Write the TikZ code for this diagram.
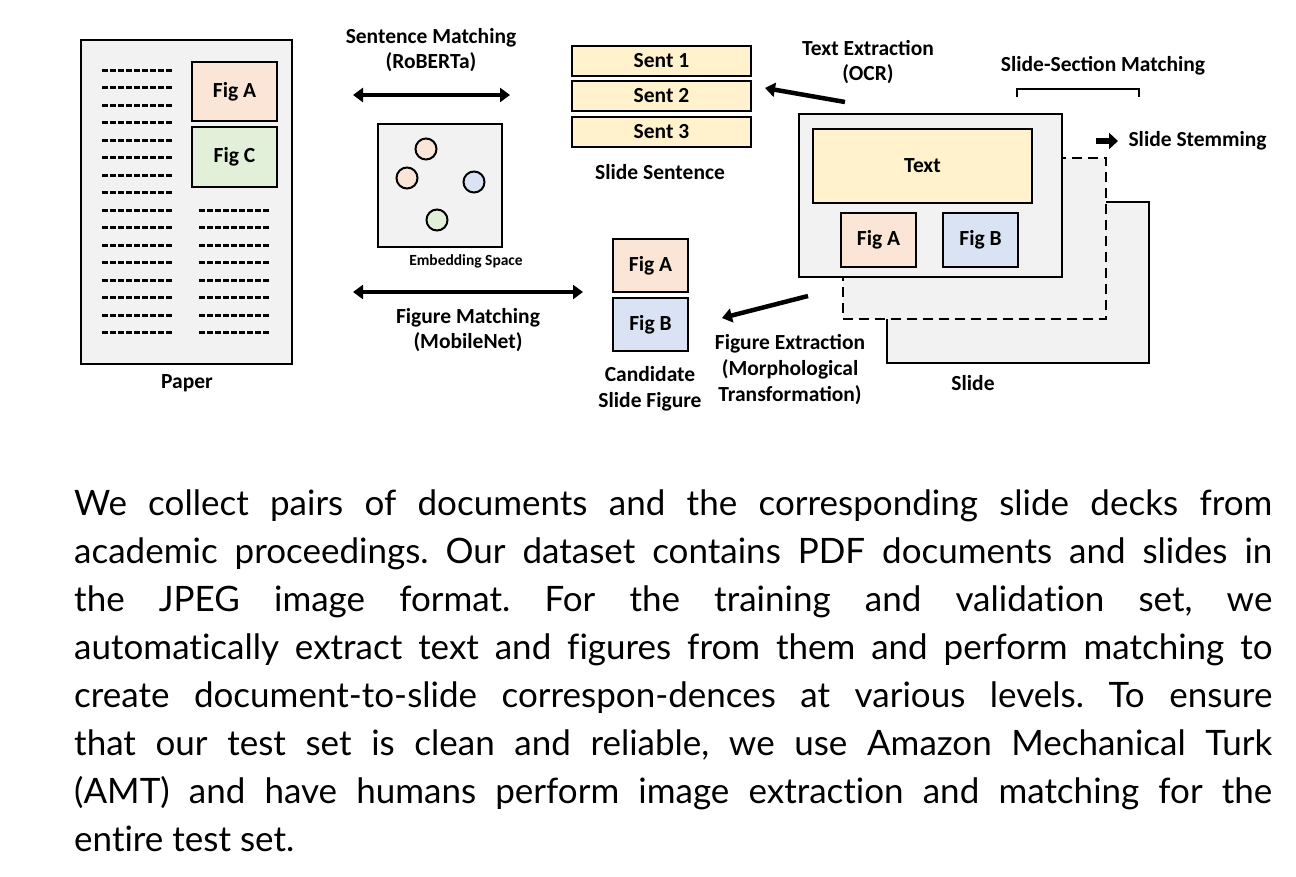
\documentclass[tikz,border=0pt]{standalone}
\usepackage{fontspec}
\setmainfont{Carlito}
\newfontfamily\capfont[Ligatures=NoCommon]{Lato}
\usetikzlibrary{arrows.meta}
\definecolor{sheetgray}{HTML}{F2F2F2}
\definecolor{peach}{HTML}{FBE5D6}
\definecolor{mint}{HTML}{E2F0D9}
\definecolor{sky}{HTML}{DAE3F3}
\definecolor{cream}{HTML}{FFF2CC}

\begin{document}
\begin{tikzpicture}[x=1pt,y=-1pt,
    box/.style={draw,line width=2.4pt,inner sep=0pt,font=\bfseries\fontsize{21.5}{25}\selectfont},
    lbl/.style={align=center,font=\bfseries\fontsize{21.5}{25}\selectfont},
    dot/.style={circle,draw,line width=2pt,minimum size=21pt,inner sep=0pt},
    textline/.style={line width=3pt,dash pattern=on 6pt off 2pt},
    bigarrow/.style={line width=4.5pt,arrows={-Triangle[length=10pt,width=14pt]}}]
  \useasboundingbox (0,0) rectangle (1296,876);

  % paper
  \node (paper) [box,fill=sheetgray,minimum width=211pt,minimum height=324pt] at (186.5,202) {};
  \foreach \i [evaluate=\i as \yy using {70.5+int(\i*17.5)}] in {0,...,15}
    \draw[textline] (102,\yy) -- ++(70,0);
  \foreach \i [evaluate=\i as \yy using {70.5+int(\i*17.5)}] in {8,...,15}
    \draw[textline] (199,\yy) -- ++(70,0);
  \node (papfigA) [box,fill=peach,minimum width=85pt,minimum height=59pt] at (234.5,91.5) {Fig A};
  \node (papfigC) [box,fill=mint,minimum width=85pt,minimum height=60pt] at (234.5,157) {Fig C};
  \node (paperlbl) [lbl] at (187,383) {Paper};

  % sentence matching
  \node (sentlbl) [lbl] at (431,50) {Sentence Matching\\(RoBERTa)};
  \coordinate (sentL) at (353,95);
  \coordinate (sentR) at (510,95);
  \draw[bigarrow,arrows={Triangle[length=10pt,width=14pt]-Triangle[length=10pt,width=14pt]}] (sentL) -- (sentR);

  % embedding space
  \node (embed) [box,fill=sheetgray,minimum width=124pt,minimum height=123pt] at (440,185.5) {};
  \node (dot1) [dot,fill=peach] at (426,149) {};
  \node (dot2) [dot,fill=peach] at (407,178) {};
  \node (dot3) [dot,fill=sky] at (474,182) {};
  \node (dot4) [dot,fill=mint] at (437,220) {};
  \node (embedlbl) [font=\bfseries\fontsize{15.5}{18}\selectfont] at (466,261) {Embedding Space};

  % figure matching
  \coordinate (figL) at (353,292);
  \coordinate (figR) at (583,292);
  \draw[bigarrow,arrows={Triangle[length=10pt,width=14pt]-Triangle[length=10pt,width=14pt]}] (figL) -- (figR);
  \node (figlbl) [lbl] at (468,330) {Figure Matching\\(MobileNet)};

  % candidate slide figures
  \node (candA) [box,fill=peach,minimum width=75pt,minimum height=53pt] at (650.5,265.5) {Fig A};
  \node (candB) [box,fill=sky,minimum width=75pt,minimum height=53pt] at (650.5,324.5) {Fig B};
  \node (candlbl) [lbl,font=\bfseries\fontsize{21.5}{26}\selectfont] at (650,389) {Candidate\\Slide Figure};

  % slide sentences
  \node (sent1) [box,fill=cream,minimum width=179pt,minimum height=30pt] at (661.5,61) {Sent 1};
  \node (sent2) [box,fill=cream,minimum width=179pt,minimum height=30pt] at (661.5,96) {Sent 2};
  \node (sent3) [box,fill=cream,minimum width=179pt,minimum height=30pt] at (661.5,132) {Sent 3};
  \node (sentslbl) [lbl] at (660,172) {Slide Sentence};

  % slides, back to front
  \node (slide3) [box,fill=sheetgray,minimum width=262pt,minimum height=161pt] at (1018,282.5) {};
  \node (slide2) [box,fill=sheetgray,dashed,dash pattern=on 10pt off 6pt,minimum width=263pt,minimum height=161pt] at (974.5,238.5) {};
  \node (slide1) [box,fill=sheetgray,minimum width=263pt,minimum height=163pt] at (930.5,195.5) {};
  \node (slidetext) [box,fill=cream,minimum width=219pt,minimum height=74pt] at (922.5,166) {Text};
  \node (slidefigA) [box,fill=peach,minimum width=75pt,minimum height=54pt] at (878.5,240) {Fig A};
  \node (slidefigB) [box,fill=sky,minimum width=75pt,minimum height=54pt] at (980.5,240) {Fig B};
  \node (slidelbl) [lbl] at (973,383) {Slide};

  % text extraction
  \node (ocrlbl) [lbl] at (868,62) {Text Extraction\\(OCR)};
  \coordinate (ocrS) at (845,102);
  \coordinate (ocrE) at (765,88);
  \draw[bigarrow] (ocrS) -- (ocrE);

  % figure extraction
  \node (morphlbl) [lbl,font=\bfseries\fontsize{21.5}{26}\selectfont] at (790,370) {Figure Extraction\\(Morphological\\Transformation)};
  \coordinate (morphS) at (808,296);
  \coordinate (morphE) at (722,318);
  \draw[bigarrow] (morphS) -- (morphE);

  % slide-section matching
  \node (seclbl) [lbl] at (1103,66) {Slide-Section Matching};
  \coordinate (secL) at (1017,97);
  \coordinate (secR) at (1139,97);
  \draw[line width=2pt] (secL) -- ++(0,-8) -| (secR);

  % slide stemming
  \coordinate (stemS) at (1096,141);
  \coordinate (stemE) at (1118,141);
  \draw[line width=6pt,arrows={-Triangle[length=9pt,width=16pt]}] (stemS) -- (stemE);
  \node (stemlbl) [lbl,anchor=west] at (1125,141) {Slide Stemming};

  % caption paragraph
  \node (caption) [anchor=north west,inner sep=0pt,text width=1198pt,align=justify,
    font=\capfont\fontsize{35}{48}\selectfont\frenchspacing] at (74,490)
    {We collect pairs of documents and the corresponding slide decks from\linebreak
     academic proceedings. Our dataset contains PDF documents and slides in\linebreak
     the JPEG image format. For the training and validation set, we\linebreak
     automatically extract text and figures from them and perform matching to\linebreak
     create document-to-slide correspon-dences at various levels. To ensure\linebreak
     that our test set is clean and reliable, we use Amazon Mechanical Turk\linebreak
     (AMT) and have humans perform image extraction and matching for the\linebreak
     entire test set.};
\end{tikzpicture}
\end{document}
